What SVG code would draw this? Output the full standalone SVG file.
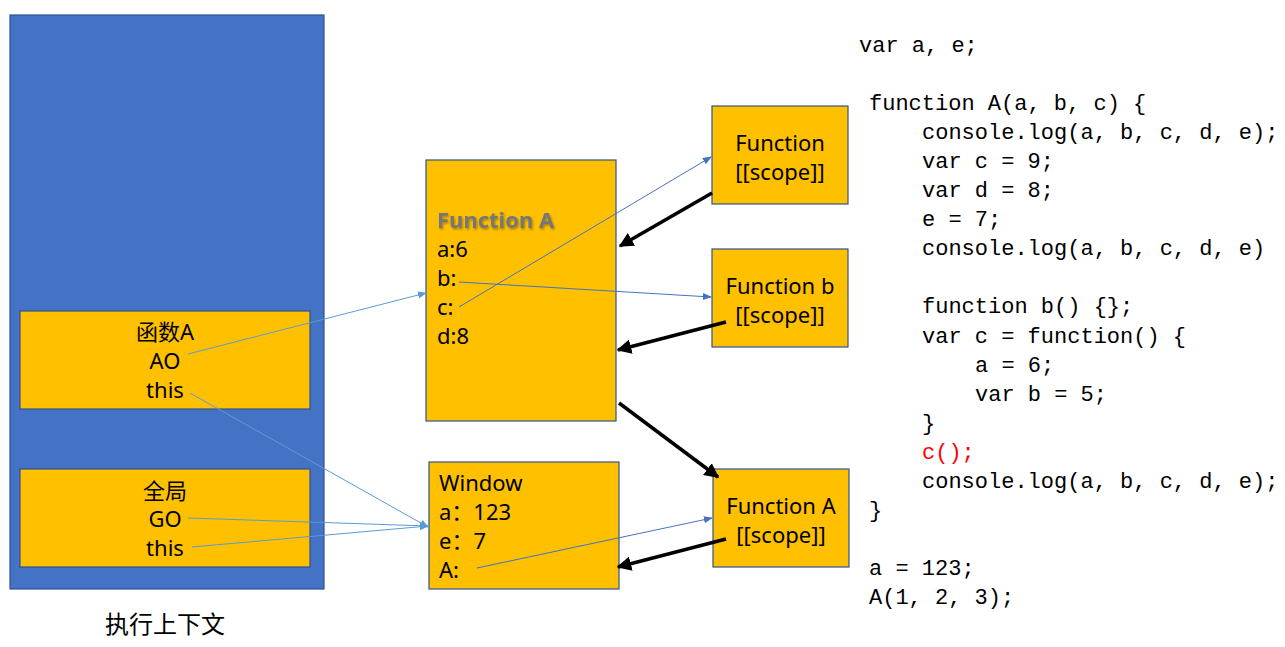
<svg xmlns="http://www.w3.org/2000/svg" width="1285" height="647" viewBox="0 0 1285 647">
<style>
.box{fill:#FFC000;stroke:#2F528F;stroke-width:1.2}
.t{font-family:"Noto Sans","Noto Sans CJK SC",sans-serif;font-size:22px;fill:#000}
.c{text-anchor:middle}
.code{font-family:"Liberation Mono","DejaVu Sans Mono",monospace;font-size:22px;fill:#000;white-space:pre}
.thin{stroke:#4472C4;stroke-width:1;fill:none;marker-end:url(#ab)}
.lt{stroke:#5B9BD5;marker-end:url(#al)}
.thick{stroke:#000;stroke-width:3.5;fill:none;marker-end:url(#ak)}
</style>
<defs>
<marker id="ab" viewBox="0 0 10 10" refX="9" refY="5" markerWidth="9" markerHeight="9" markerUnits="userSpaceOnUse" orient="auto"><path d="M0,1 L10,5 L0,9 z" fill="#4472C4"/></marker>
<marker id="al" viewBox="0 0 10 10" refX="9" refY="5" markerWidth="9" markerHeight="9" markerUnits="userSpaceOnUse" orient="auto"><path d="M0,1 L10,5 L0,9 z" fill="#5B9BD5"/></marker>
<marker id="ak" viewBox="0 0 10 10" refX="9" refY="5" markerWidth="4.2" markerHeight="4.2" orient="auto"><path d="M0,0 L10,5 L0,10 z" fill="#000"/></marker>
<filter id="sh" x="-10%" y="-20%" width="130%" height="150%"><feDropShadow dx="1" dy="1.5" stdDeviation="0.8" flood-color="#000" flood-opacity="0.35"/></filter>
</defs>
<rect width="1285" height="647" fill="#fff"/>
<g id="exec-context">
<rect x="10" y="15" width="314" height="574" fill="#4472C4" stroke="#2F528F" stroke-width="1.2"/>
<text class="t c" x="165" y="633" style="font-size:24px">执行上下文</text>
</g>
<g id="ctx-A">
<rect class="box" x="20" y="311" width="290" height="98"/>
<text class="t c" x="165" y="340">函数A</text>
<text class="t c" x="165" y="369">AO</text>
<text class="t c" x="165" y="398">this</text>
</g>
<g id="ctx-global">
<rect class="box" x="20" y="469" width="290" height="98"/>
<text class="t c" x="165" y="499">全局</text>
<text class="t c" x="165" y="527">GO</text>
<text class="t c" x="165" y="556">this</text>
</g>
<g id="ao-A">
<rect class="box" x="426" y="160" width="190" height="261"/>
<text class="t" x="437" y="228" font-weight="bold" style="fill:#767676" filter="url(#sh)">Function A</text>
<text class="t" x="437" y="257">a:6</text>
<text class="t" x="437" y="286">b:</text>
<text class="t" x="437" y="315">c:</text>
<text class="t" x="437" y="344">d:8</text>
</g>
<g id="window">
<rect class="box" x="429" y="462" width="190" height="127"/>
<text class="t" x="439" y="491">Window</text>
<text class="t" x="439" y="520">a：123</text>
<text class="t" x="439" y="549">e：7</text>
<text class="t" x="439" y="578">A:</text>
</g>
<g id="fn-c">
<rect class="box" x="712" y="106" width="136" height="98"/>
<text class="t c" x="780" y="151">Function</text>
<text class="t c" x="780" y="180">[[scope]]</text>
</g>
<g id="fn-b">
<rect class="box" x="712" y="249" width="136" height="98"/>
<text class="t c" x="780" y="294">Function b</text>
<text class="t c" x="780" y="323">[[scope]]</text>
</g>
<g id="fn-A">
<rect class="box" x="713" y="469" width="136" height="98"/>
<text class="t c" x="781" y="514">Function A</text>
<text class="t c" x="781" y="543">[[scope]]</text>
</g>
<g id="connectors">
<line class="thin lt" x1="188" y1="354" x2="426" y2="293"/>
<line class="thin lt" x1="190" y1="393" x2="428" y2="527"/>
<line class="thin lt" x1="188" y1="518" x2="428" y2="526"/>
<line class="thin lt" x1="192" y1="547" x2="428" y2="526"/>
<line class="thin" x1="459" y1="282" x2="711" y2="297"/>
<line class="thin" x1="459" y1="307" x2="711" y2="157"/>
<line class="thin" x1="477" y1="568" x2="712" y2="518"/>
<line class="thick" x1="712" y1="193" x2="620" y2="246"/>
<line class="thick" x1="726" y1="322" x2="618" y2="350"/>
<line class="thick" x1="619" y1="403" x2="718" y2="477"/>
<line class="thick" x1="726" y1="539" x2="618" y2="567"/>
</g>
<g id="code">
<text class="code" x="859" y="52">var a, e;</text>
<text class="code" x="869" y="110">function A(a, b, c) {</text>
<text class="code" x="922" y="139">console.log(a, b, c, d, e);</text>
<text class="code" x="922" y="168">var c = 9;</text>
<text class="code" x="922" y="197">var d = 8;</text>
<text class="code" x="922" y="226">e = 7;</text>
<text class="code" x="922" y="255">console.log(a, b, c, d, e)</text>
<text class="code" x="922" y="313">function b() {};</text>
<text class="code" x="922" y="343">var c = function() {</text>
<text class="code" x="975" y="372">a = 6;</text>
<text class="code" x="975" y="401">var b = 5;</text>
<text class="code" x="922" y="430">}</text>
<text class="code" x="922" y="459" style="fill:#FF0000">c();</text>
<text class="code" x="922" y="488">console.log(a, b, c, d, e);</text>
<text class="code" x="869" y="517">}</text>
<text class="code" x="869" y="575">a = 123;</text>
<text class="code" x="869" y="604">A(1, 2, 3);</text>
</g>
</svg>
